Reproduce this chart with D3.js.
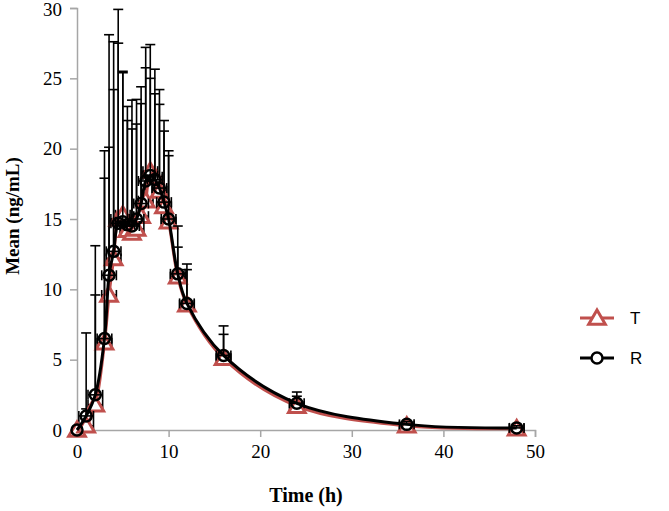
<!DOCTYPE html>
<html><head><meta charset="utf-8">
<script src="https://cdn.jsdelivr.net/npm/d3@7"></script>
<style>body{margin:0;background:#fff}svg{display:block}</style>
</head><body>
<svg id="c" width="669" height="511"></svg>
<script>
const times = [0,1,2,3,3.5,4,4.5,5,5.5,6,6.5,7,7.5,8,8.5,9,9.5,10,11,12,16,24,36,48];
const meanT = [0,0.3,1.8,6.2,9.6,12.2,15.0,15.3,14.2,14.0,14.3,15.2,16.3,18.4,18.0,17.0,15.9,14.8,10.9,8.9,5.1,1.7,0.3,0.1];
const meanR = [0,1.0,2.5,6.5,11.0,12.7,14.7,14.8,14.6,14.5,15.0,16.1,17.7,18.1,17.8,17.2,16.2,15.0,11.1,9.0,5.3,1.9,0.4,0.15];
const upperT = [0,1.5,9.6,17.9,20.1,24.2,27.5,25.4,22.0,21.4,21.75,23.2,25.75,25.0,23.9,23.15,21.25,19.5,13.0,11.4,6.8,2.4,0.5,0.25];
const upperR = [0,6.9,13.1,19.85,28.1,27.6,29.9,25.5,23.0,23.45,23.5,24.4,27.2,27.4,25.65,24.2,22.0,19.85,14.5,11.8,7.4,2.7,0.6,0.3];
const xErr = 0.8;
const xTicks = [0,10,20,30,40,50];
const yTicks = [0,5,10,15,20,25,30];
const seriesNames = ["T","R"];

const svg = d3.select("#c");
const x = d3.scaleLinear().domain([0,50]).range([77,535]);
const y = d3.scaleLinear().domain([0,30]).range([430,8]);
const axisCol = "#a6a6a6";
const red = "#c0504d";

// axes
const gx = svg.append("g").attr("transform","translate(0,430)")
  .call(d3.axisBottom(x).tickValues(xTicks).tickSize(7).tickPadding(8).tickFormat(d3.format("d")));
const gy = svg.append("g").attr("transform","translate(77,0)")
  .call(d3.axisLeft(y).tickValues(yTicks).tickSize(7).tickPadding(6).tickFormat(d3.format("d")));
[gx,gy].forEach(g=>{
  g.select(".domain").attr("stroke",axisCol).attr("stroke-width",1.5);
  g.selectAll(".tick line").attr("stroke",axisCol).attr("stroke-width",1.5);
  g.selectAll(".tick text").attr("fill","#000").attr("font-family","'Liberation Serif', 'Times New Roman', serif").attr("font-size","19px");
});
gy.selectAll(".tick text").attr("dx","-2");
gy.selectAll(".tick text").filter(d=>d===30).attr("dy","0.40em");

svg.append("text").attr("x",306).attr("y",502).attr("text-anchor","middle")
  .attr("font-family","'Liberation Serif', serif").attr("font-weight","bold").attr("font-size","20px").text("Time (h)");
svg.append("text").attr("transform","translate(19,216) rotate(-90)").attr("text-anchor","middle")
  .attr("font-family","'Liberation Serif', serif").attr("font-weight","bold").attr("font-size","19px").text("Mean (ng/mL)");

const line = d3.line().x(d=>x(d[0])).y(d=>y(d[1])).curve(d3.curveCatmullRom.alpha(0.5));
const dataT = times.map((t,i)=>[t,meanT[i],upperT[i]]);
const dataR = times.map((t,i)=>[t,meanR[i],upperR[i]]);

function errorBars(data){
  const g = svg.append("g").attr("stroke","#000").attr("stroke-width",1.6).attr("fill","none");
  data.forEach(d=>{
    if (d[0]===0) return;
    const cx = x(d[0]), cy = y(d[1]), uy = y(d[2]);
    if (d[2] > d[1]) {
      g.append("line").attr("x1",cx).attr("x2",cx).attr("y1",cy).attr("y2",uy);
      g.append("line").attr("x1",cx-5).attr("x2",cx+5).attr("y1",uy).attr("y2",uy);
    }
    const xl = x(d[0]-xErr), xr = x(d[0]+xErr);
    g.append("line").attr("x1",xl).attr("x2",xr).attr("y1",cy).attr("y2",cy);
    g.append("line").attr("x1",xl).attr("x2",xl).attr("y1",cy-5).attr("y2",cy+5);
    g.append("line").attr("x1",xr).attr("x2",xr).attr("y1",cy-5).attr("y2",cy+5);
  });
}
const tri = d3.symbol().type(d3.symbolTriangle).size(120);

// T series
errorBars(dataT);
svg.append("path").datum(dataT).attr("d",line).attr("fill","none").attr("stroke",red).attr("stroke-width",3);
svg.append("g").selectAll("path").data(dataT).join("path")
  .attr("transform",d=>`translate(${x(d[0])},${y(d[1])+1.5})`).attr("d",tri)
  .attr("fill","#fff").attr("stroke",red).attr("stroke-width",3);
// R series
errorBars(dataR);
svg.append("path").datum(dataR).attr("d",line).attr("fill","none").attr("stroke","#000").attr("stroke-width",3);
svg.append("g").selectAll("circle").data(dataR).join("circle")
  .attr("cx",d=>x(d[0])).attr("cy",d=>y(d[1])).attr("r",5.5)
  .attr("fill","none").attr("stroke","#000").attr("stroke-width",2.5);

// legend
const lg = svg.append("g");
[[318,red,"T"],[358,"#000","R"]].forEach(([ly,col,name])=>{
  lg.append("line").attr("x1",580).attr("x2",614).attr("y1",ly).attr("y2",ly).attr("stroke",col).attr("stroke-width",3);
  if (name==="T") lg.append("path").attr("transform",`translate(597,${ly+1.5})`).attr("d",tri).attr("fill","#fff").attr("stroke",red).attr("stroke-width",3);
  else lg.append("circle").attr("cx",597).attr("cy",ly).attr("r",5.5).attr("fill","#fff").attr("stroke","#000").attr("stroke-width",2.5);
  lg.append("text").attr("x",630).attr("y",ly+6).attr("font-family","'Liberation Sans', Arial, sans-serif").attr("font-size","17px").text(name);
});
</script>
</body></html>
